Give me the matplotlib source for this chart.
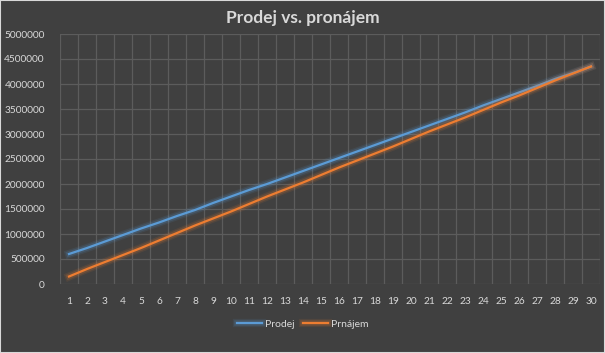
import matplotlib
matplotlib.use("Agg")
import matplotlib.pyplot as plt
import matplotlib.patheffects as pe
from matplotlib.patches import Rectangle
from matplotlib.ticker import FixedLocator, FuncFormatter

# data
roky = list(range(1, 31))
prodej = [600000, 720000, 850000, 980000, 1110000, 1230000, 1360000, 1480000, 1620000, 1750000,
          1880000, 2000000, 2130000, 2260000, 2390000, 2520000, 2650000, 2780000, 2910000, 3040000,
          3170000, 3300000, 3430000, 3570000, 3700000, 3830000, 3960000, 4100000, 4220000, 4350000]
pronajem = [150000, 300000, 440000, 580000, 720000, 870000, 1020000, 1170000, 1310000, 1450000,
            1600000, 1750000, 1890000, 2030000, 2180000, 2330000, 2470000, 2610000, 2750000, 2900000,
            3050000, 3190000, 3330000, 3480000, 3630000, 3770000, 3920000, 4070000, 4210000, 4350000]
y_ticks = list(range(0, 5000001, 500000))

bg = "#404040"
grid_col = "#5c5c5c"
txt = "#d9d9d9"
blue = "#5b9bd5"
orange = "#ed7d31"

plt.rcParams['font.family'] = ['Lato', 'DejaVu Sans']

fig = plt.figure(figsize=(6.05, 3.53), dpi=100, facecolor=bg)
ax = fig.add_axes([60/605, 1 - 284/353, 540/605, 250/353], facecolor=bg)

def glow(c):
    return [pe.Stroke(linewidth=6, foreground=c, alpha=0.1),
            pe.Stroke(linewidth=4, foreground=c, alpha=0.18),
            pe.Normal()]

ax.plot(roky, prodej, color=blue, lw=1.6, label="Prodej", path_effects=glow(blue), zorder=3)
ax.plot(roky, pronajem, color=orange, lw=1.6, label="Prnájem", path_effects=glow(orange), zorder=3)

ax.set_xlim(0.5, 30.5)
ax.set_ylim(0, 5000000)
ax.set_xticks(roky)
ax.xaxis.set_minor_locator(FixedLocator([r - 0.5 for r in roky] + [30.5]))
ax.set_yticks(y_ticks)
ax.yaxis.set_major_formatter(FuncFormatter(lambda v, p: f"{int(v)}"))

ax.grid(True, axis='y', which='major', color=grid_col, lw=0.9)
ax.grid(True, axis='x', which='minor', color=grid_col, lw=0.9)
ax.set_axisbelow(True)
ax.tick_params(which='both', length=0, colors=txt, labelsize=7.3)
ax.tick_params(axis='x', pad=9)
ax.tick_params(axis='y', pad=11)
for s in ax.spines.values():
    s.set_visible(False)

fig.text(0.5, 1 - 18/353, "Prodej vs. pronájem", ha='center', va='center',
         color=txt, fontsize=12.5, fontweight='bold')

fig.legend(loc='center', bbox_to_anchor=(0.5, 1 - 324/353), ncol=2, frameon=False,
           fontsize=7.5, labelcolor=txt, handlelength=2.4, handletextpad=0.3,
           columnspacing=0.8)

fig.patches.append(Rectangle((0, 0), 1, 1, transform=fig.transFigure, fill=False,
                             edgecolor="#d9d9d9", lw=1.5))

fig.savefig("out.png", dpi=100, facecolor=bg)
